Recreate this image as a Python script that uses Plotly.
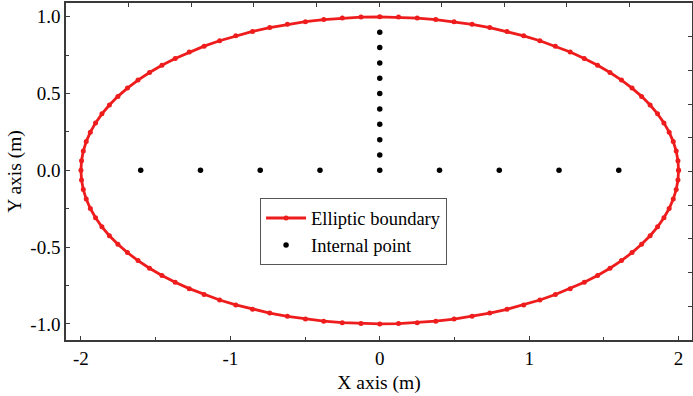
import numpy as np
import plotly.graph_objects as go

# Elliptic boundary: semi-axes and number of boundary nodes
semi_a = 2.0
semi_b = 1.0
n_boundary = 100
theta = np.linspace(0, 2 * np.pi, n_boundary + 1)
boundary_x = semi_a * np.cos(theta)
boundary_y = semi_b * np.sin(theta)

# Internal points
internal_x = [-1.6, -1.2, -0.8, -0.4, 0.0, 0.4, 0.8, 1.2, 1.6,
              0.0, 0.0, 0.0, 0.0, 0.0, 0.0, 0.0, 0.0, 0.0]
internal_y = [0.0, 0.0, 0.0, 0.0, 0.0, 0.0, 0.0, 0.0, 0.0,
              0.1, 0.2, 0.3, 0.4, 0.5, 0.6, 0.7, 0.8, 0.9]

x_ticks = [-2, -1, 0, 1, 2]
y_ticks = [-1.0, -0.5, 0.0, 0.5, 1.0]
y_tick_text = ["-1.0", "-0.5", "0.0", "0.5", "1.0"]

FONT = "Liberation Serif, Times New Roman, serif"
AX = "#3a3a3a"

fig = go.Figure()
fig.add_trace(go.Scatter(
    x=boundary_x, y=boundary_y, mode="lines+markers", name="Elliptic boundary",
    line=dict(color="#ee1c1c", width=2.8),
    marker=dict(color="#ee1c1c", size=5),
))
fig.add_trace(go.Scatter(
    x=internal_x, y=internal_y, mode="markers", name="Internal point",
    marker=dict(color="black", size=5.5),
))
# invisible trace to carry the top/right frame axes
fig.add_trace(go.Scatter(
    x=[0], y=[0], xaxis="x2", yaxis="y2", mode="markers",
    marker=dict(opacity=0), showlegend=False, hoverinfo="skip",
))

fig.update_layout(
    width=693, height=396,
    margin=dict(l=66, r=1, t=3, b=56),
    plot_bgcolor="white", paper_bgcolor="white",
    font=dict(family=FONT, size=18, color="black"),
    showlegend=True,
    legend=dict(
        x=0.31, y=0.42, xanchor="left", yanchor="top",
        bgcolor="white", bordercolor="#555", borderwidth=1,
        font=dict(family=FONT, size=18.5, color="black"),
        tracegroupgap=0, itemwidth=40,
    ),
    xaxis=dict(
        range=[-2.1, 2.09], tickvals=x_ticks, ticktext=[str(v) for v in x_ticks],
        ticks="inside", ticklen=4, tickcolor=AX, showgrid=False, zeroline=False,
        showline=True, linecolor=AX, linewidth=1.5,
        minor=dict(dtick=0.5, ticks="inside", ticklen=3, tickcolor=AX),
        title=dict(text="X axis (m)", font=dict(family=FONT, size=19.5), standoff=8),
        tickfont=dict(family=FONT, size=19),
    ),
    yaxis=dict(
        range=[-1.105, 1.09], tickvals=y_ticks, ticktext=y_tick_text,
        ticks="inside", ticklen=4, tickcolor=AX, showgrid=False, zeroline=False,
        showline=True, linecolor=AX, linewidth=1.5,
        minor=dict(dtick=0.25, ticks="inside", ticklen=3, tickcolor=AX),
        title=dict(text="Y axis (m)", font=dict(family=FONT, size=19.5), standoff=4),
        tickfont=dict(family=FONT, size=19),
    ),
    xaxis2=dict(
        overlaying="x", side="top", range=[0, 10], dtick=1, ticks="inside",
        ticklen=4, tickcolor=AX, showticklabels=False, showgrid=False,
        zeroline=False, showline=True, linecolor=AX, linewidth=1.5,
    ),
    yaxis2=dict(
        overlaying="y", side="right", range=[0, 10], dtick=1, ticks="inside",
        ticklen=4, tickcolor=AX, showticklabels=False, showgrid=False,
        zeroline=False, showline=True, linecolor=AX, linewidth=1.5,
    ),
)

fig.write_html("out.html")
